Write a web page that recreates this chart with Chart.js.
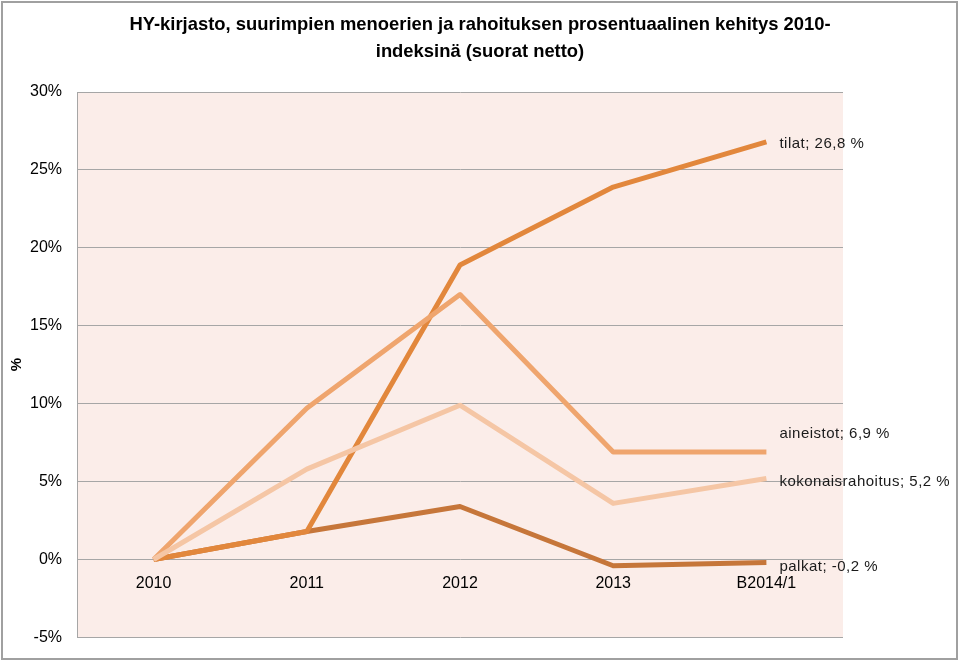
<!DOCTYPE html>
<html>
<head>
<meta charset="utf-8">
<script src="https://cdn.jsdelivr.net/npm/chart.js@4/dist/chart.umd.min.js"></script>
<style>
html,body{margin:0;padding:0;background:#fff;}
#wrap{width:960px;height:662px;position:relative;}
</style>
</head>
<body>
<div id="wrap"><canvas id="c" width="960" height="662"></canvas></div>
<script>
const categories = ['2010', '2011', '2012', '2013', 'B2014/1'];
const tilat = [0, 1.8, 18.9, 23.9, 26.8];
const aineistot = [0, 9.7, 17.0, 6.9, 6.9];
const kokonaisrahoitus = [0, 5.8, 9.9, 3.6, 5.2];
const palkat = [0, 1.8, 3.4, -0.4, -0.2];
const seriesNames = ['tilat', 'aineistot', 'kokonaisrahoitus', 'palkat'];
const endLabels = ['tilat; 26,8 %', 'aineistot; 6,9 %', 'kokonaisrahoitus; 5,2 %', 'palkat; -0,2 %'];
const titleLines = ['HY-kirjasto, suurimpien menoerien ja rahoituksen prosentuaalinen kehitys 2010-', 'indeksinä (suorat netto)'];
const yAxisTitle = '%';

const FONT = "'Liberation Sans', Arial, sans-serif";
const colors = ['#E2873C', '#EFA56E', '#F5C6A5', '#C6763A'];
const drawOrder = [2, 1, 0, 3]; // lower = on top
const labelDy = [2, -18, 3, 4];

const bgPlugin = {
  id: 'bg',
  beforeDraw(chart) {
    const {ctx, chartArea: a} = chart;
    ctx.save();
    ctx.fillStyle = '#FBEDE9';
    ctx.fillRect(a.left, a.top, a.right - a.left, a.bottom - a.top);
    ctx.restore();
  },
  afterDraw(chart) {
    const {ctx} = chart;
    ctx.save();
    ctx.strokeStyle = '#A0A0A0';
    ctx.lineWidth = 2;
    ctx.strokeRect(2, 2, 955, 657);
    ctx.fillStyle = '#000';
    ctx.font = 'bold 18.4px ' + FONT;
    ctx.textAlign = 'center';
    ctx.textBaseline = 'middle';
    titleLines.forEach((t, i) => ctx.fillText(t, 480, 25 + i * 27));
    ctx.restore();
  }
};

const endLabelPlugin = {
  id: 'endLabels',
  afterDatasetsDraw(chart) {
    const {ctx} = chart;
    ctx.save();
    ctx.font = '15px ' + FONT;
    ctx.fillStyle = '#1a1a1a';
    ctx.textAlign = 'left';
    ctx.textBaseline = 'middle';
    try { ctx.letterSpacing = '0.5px'; } catch (e) {}
    chart.data.datasets.forEach((ds, i) => {
      const meta = chart.getDatasetMeta(i);
      const pt = meta.data[meta.data.length - 1];
      ctx.fillText(endLabels[ds.idx], pt.x + 13, pt.y + labelDy[ds.idx]);
    });
    ctx.restore();
  }
};

const seriesData = [tilat, aineistot, kokonaisrahoitus, palkat];
const datasets = seriesNames.map((n, i) => ({
  label: n,
  idx: i,
  data: seriesData[i],
  borderColor: colors[i],
  backgroundColor: colors[i],
  borderWidth: 5,
  pointRadius: 0,
  pointHoverRadius: 0,
  tension: 0,
  fill: false,
  order: drawOrder[i],
  borderJoinStyle: 'round',
  borderCapStyle: 'butt'
}));

new Chart(document.getElementById('c'), {
  type: 'line',
  data: {labels: categories, datasets},
  options: {
    responsive: false,
    animation: false,
    events: [],
    layout: {padding: {left: 0, right: 117, top: 92, bottom: 23}},
    plugins: {
      legend: {display: false},
      tooltip: {enabled: false},
      title: {display: false}
    },
    scales: {
      x: {
        type: 'category',
        offset: true,
        position: {y: 0},
        afterFit(s) { s.height = 0; },
        grid: {display: false, drawTicks: false},
        border: {display: false},
        ticks: {color: '#000', font: {family: FONT, size: 16}, padding: 15, maxRotation: 0, autoSkip: false}
      },
      y: {
        min: -5,
        max: 30,
        afterFit(s) { s.width = 77; },
        grid: {color: '#A6A6A6', lineWidth: 1, drawTicks: false},
        border: {display: true, color: '#A6A6A6', width: 1},
        ticks: {stepSize: 5, color: '#000', font: {family: FONT, size: 16}, padding: 15,
          callback: v => v + '%'},
        title: {display: true, text: yAxisTitle, color: '#000', font: {family: FONT, size: 15, weight: 'bold'}, padding: {top: 8, bottom: 0}}
      }
    }
  },
  plugins: [bgPlugin, endLabelPlugin]
});
</script>
</body>
</html>
